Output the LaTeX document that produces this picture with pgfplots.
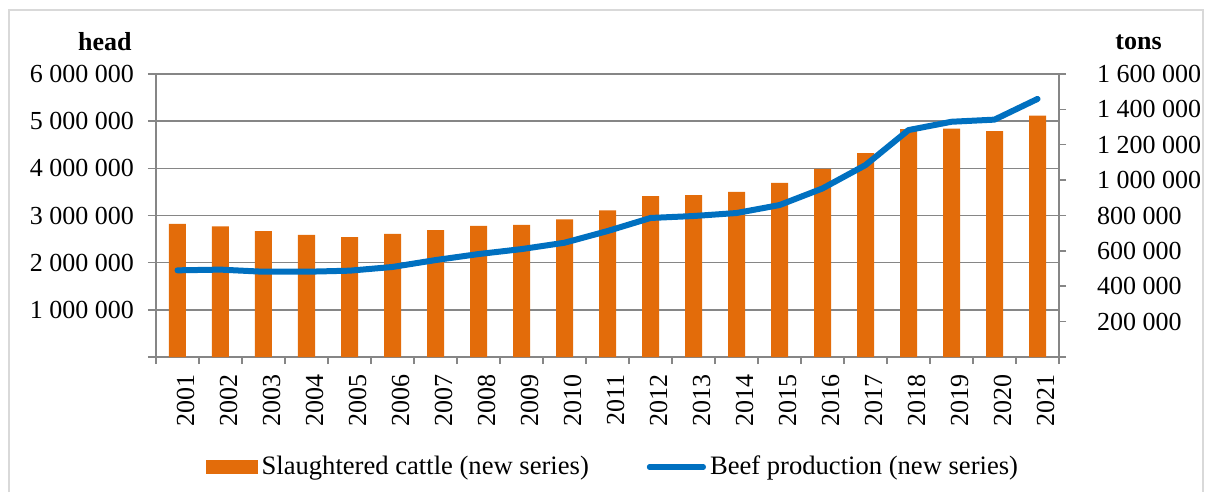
\documentclass[border=0pt]{standalone}
\usepackage{pgfplots}
\pgfplotsset{compat=1.18}
\usepackage{fontspec}
\setmainfont{Liberation Serif}

\definecolor{barorange}{RGB}{227,108,10}
\definecolor{lineblue}{RGB}{0,112,192}
\definecolor{axisgray}{RGB}{134,134,134}
\definecolor{framegray}{RGB}{217,217,217}

% Slaughtered cattle (head) and beef production (tons), 2001-2021
\pgfplotstableread{
x year cattle beef
1  2001 2820000 490000
2  2002 2770000 494000
3  2003 2670000 482000
4  2004 2590000 482000
5  2005 2540000 488000
6  2006 2610000 509000
7  2007 2690000 548000
8  2008 2780000 582000
9  2009 2800000 610000
10 2010 2920000 646000
11 2011 3110000 712000
12 2012 3410000 786000
13 2013 3430000 797000
14 2014 3500000 814000
15 2015 3690000 859000
16 2016 3990000 953000
17 2017 4320000 1085000
18 2018 4830000 1283000
19 2019 4840000 1330000
20 2020 4790000 1342000
21 2021 5120000 1459000
}\datatable

\begin{document}
\begin{tikzpicture}
\fontsize{13}{15.6}\selectfont
% outer frame (open at the bottom)
\path[use as bounding box] (-78pt,-67.5pt) rectangle (526pt,178.5pt);
\draw[framegray, line width=0.6pt] (-73.5pt,-67.5pt) -- (-73.5pt,173.5pt) -- (523.5pt,173.5pt) -- (523.5pt,-67.5pt);

\begin{axis}[
  at={(0pt,0pt)}, anchor=south west,
  scale only axis, width=451.5pt, height=141.5pt,
  clip=false,
  xmin=0.5, xmax=21.5,
  ymin=0, ymax=6000000,
  scaled y ticks=false,
  axis x line*=bottom, axis y line*=left,
  axis line style={axisgray, line width=0.75pt},
  every tick/.style={axisgray, line width=0.75pt},
  tick align=outside,
  xtick={1,...,21},
  xticklabels={2001,2002,2003,2004,2005,2006,2007,2008,2009,2010,2011,2012,2013,2014,2015,2016,2017,2018,2019,2020,2021},
  major x tick style={draw=none},
  minor xtick={0.5,1.5,...,21.5},
  minor tick length=3.5pt,
  xticklabel style={rotate=90, anchor=east, font=\fontsize{13}{15.6}\selectfont, yshift=-4pt},
  ytick={0,1000000,...,6000000},
  yticklabels={,1 000 000,2 000 000,3 000 000,4 000 000,5 000 000,6 000 000},
  major tick length=4pt,
  yticklabel style={font=\fontsize{13}{15.6}\selectfont, xshift=-2.5pt},
  ymajorgrids,
  grid style={axisgray, line width=0.75pt},
  ybar, bar width=8.5pt, bar shift=0pt,
  legend columns=2,
  legend style={draw=none, fill=none, font=\fontsize{13.3}{16}\selectfont,
    at={(axis description cs:0.507,-0.389)}, anchor=center,
    /tikz/every even column/.append style={column sep=27pt},
    inner sep=0pt},
  legend cell align=left,
]
\addplot[draw=none, fill=barorange,
  legend image code/.code={\fill[barorange] (0pt,-3.5pt) rectangle (26pt,3.5pt);}]
  table[x=x, y=cattle] {\datatable};
\addlegendentry{Slaughtered cattle (new series)}
\addlegendimage{legend image code/.code={\draw[lineblue, line width=2.6pt, line cap=round] (0pt,0pt) -- (27pt,0pt);}}
\addlegendentry{Beef production (new series)}
\node[anchor=base east, inner sep=0pt, font=\bfseries\fontsize{13}{15.6}\selectfont]
  at ([xshift=-12pt, yshift=12pt]rel axis cs:0,1) {head};
\end{axis}

\begin{axis}[
  at={(0pt,0pt)}, anchor=south west,
  scale only axis, width=451.5pt, height=141.5pt,
  clip=false,
  xmin=0.5, xmax=21.5,
  ymin=0, ymax=1600000,
  scaled y ticks=false,
  axis x line=none, axis y line*=right,
  axis line style={axisgray, line width=0.75pt},
  every tick/.style={axisgray, line width=0.75pt},
  tick align=outside, major tick length=3.5pt,
  ytick={0,200000,...,1600000},
  yticklabels={,200 000,400 000,600 000,800 000,1 000 000,1 200 000,1 400 000,1 600 000},
  yticklabel style={anchor=west, font=\fontsize{13}{15.6}\selectfont, xshift=11pt},
]
\addplot[lineblue, line width=3pt, line cap=round, line join=round]
  table[x=x, y=beef] {\datatable};
\node[anchor=base, inner sep=0pt, font=\bfseries\fontsize{13}{15.6}\selectfont]
  at ([xshift=39.75pt, yshift=12pt]rel axis cs:1,1) {tons};
\end{axis}
\end{tikzpicture}
\end{document}
